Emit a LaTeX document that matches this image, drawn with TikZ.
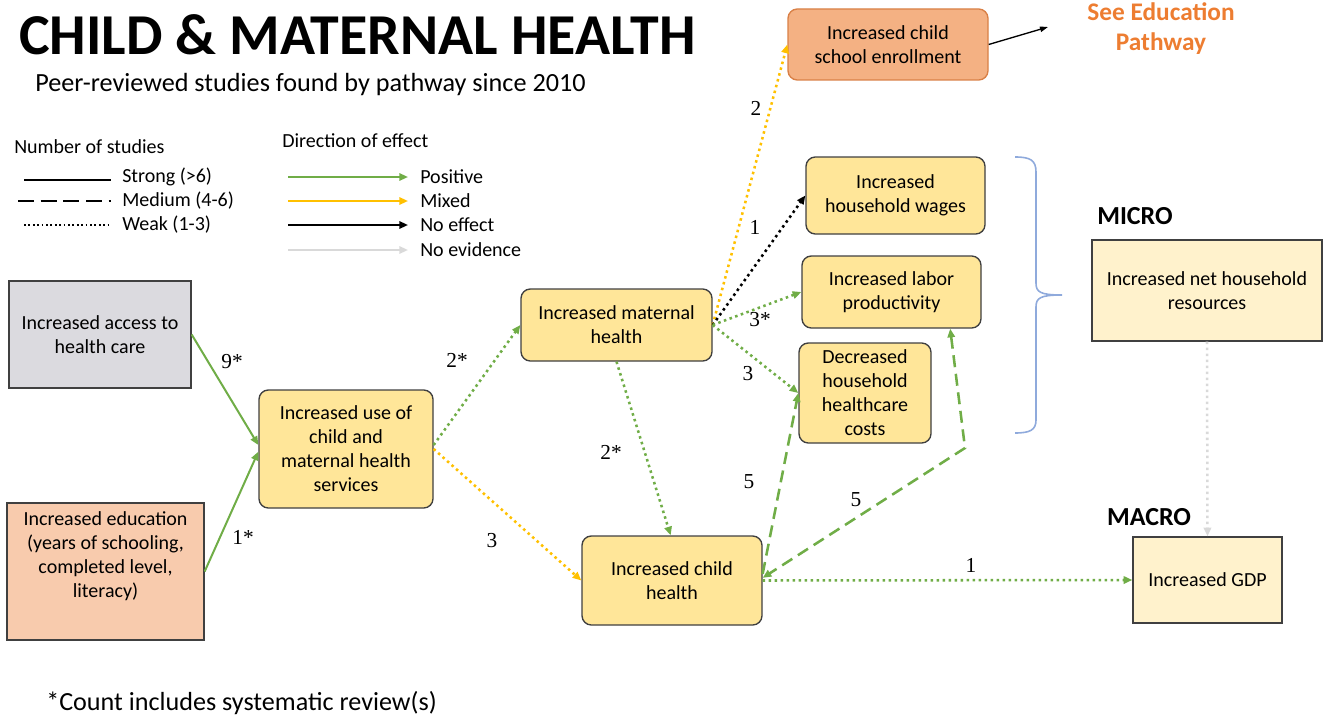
\documentclass[tikz,border=0pt]{standalone}
\usepackage{fontspec}
\setmainfont{Carlito}
\newfontfamily\numfont{Liberation Serif}
\usetikzlibrary{arrows.meta,calc}
\definecolor{cgreen}{HTML}{70AD47}
\definecolor{cgold}{HTML}{FFC000}
\definecolor{cgrayline}{HTML}{D9D9D9}
\definecolor{cyellow}{HTML}{FFE699}
\definecolor{cpale}{HTML}{FFF2CC}
\definecolor{cpeach}{HTML}{F8CBAD}
\definecolor{corange}{HTML}{F4B183}
\definecolor{corangetext}{HTML}{ED7D31}
\definecolor{cenroll}{HTML}{D98046}
\definecolor{cgraybox}{HTML}{DBDADF}
\definecolor{cborder}{HTML}{404040}
\definecolor{cbrace}{HTML}{8FAADC}
\tikzset{
  boxtext/.style={font=\fontsize{15}{18}\selectfont, align=center},
  rbox/.style={draw=cborder, line width=1pt, rounded corners=7pt, fill=cyellow, boxtext, inner sep=0pt},
  sbox/.style={draw=cborder, line width=1pt, boxtext, inner sep=0pt},
  lab/.style={font=\numfont\fontsize{16}{16}\selectfont, inner sep=0pt},
  legtext/.style={font=\fontsize{15}{18}\selectfont, anchor=base west, inner sep=0pt},
  tip/.style={-{Triangle[length=6.5pt,width=5.5pt]}},
  strongline/.style={line width=1.5pt},
  weakline/.style={line width=1.9pt, dash pattern=on 1.9pt off 2.6pt},
  medline/.style={line width=1.9pt, dash pattern=on 9pt off 5pt},
  legweak/.style={line width=1.5pt, dash pattern=on 1.4pt off 1.9pt},
}
\begin{document}
\begin{tikzpicture}[x=0.75pt,y=-0.75pt]
\useasboundingbox (0,0) rectangle (1325,717);

% title
\node[anchor=base west, inner sep=0pt, font=\bfseries\fontsize{43.4}{46}\selectfont] (title) at (19,55) {CHILD \& MATERNAL HEALTH};
\node[anchor=base west, inner sep=0pt, font=\fontsize{19.65}{22}\selectfont] (subtitle) at (35,92) {Peer-reviewed studies found by pathway since 2010};

% legend
\node[legtext] (numst) at (14,153) {Number of studies};
\node[legtext] (dirfx) at (282,147) {Direction of effect};
\draw[strongline] (24,180) -- (111,180);
\draw[strongline, dash pattern=on 12pt off 5pt] (18,201) -- (111,201);
\draw[legweak] (24,225) -- (108,225);
\node[legtext] (lstrong) at (122,182) {Strong (>6)};
\node[legtext] (lmed) at (122,206) {Medium (4-6)};
\node[legtext] (lweak) at (122,230) {Weak (1-3)};
\draw[strongline, tip, cgreen] (288,177) -- (408,177);
\draw[strongline, tip, cgold] (288,201) -- (408,201);
\draw[strongline, tip, black] (288,225) -- (408,225);
\draw[strongline, tip, cgrayline] (288,250) -- (408,250);
\node[legtext] (lpos) at (420,183) {Positive};
\node[legtext] (lmix) at (420,207) {Mixed};
\node[legtext] (lnoe) at (420,231) {No effect};
\node[legtext] (lnoev) at (420,256) {No evidence};

% nodes
\node[sbox, fill=cgraybox, minimum width=136.5pt, minimum height=80.25pt] (access) at (100,334.5) {Increased access to\\health care};
\node[sbox, fill=cpeach, minimum width=147.75pt, minimum height=102.75pt] (edu) at (105.5,571.5) {};
\node[boxtext, inner sep=0pt] (edutext) at (105.5,556) {Increased education\\(years of schooling,\\completed level,\\literacy)};
\node[rbox, minimum width=130.5pt, minimum height=88.5pt] (serv) at (346,449) {Increased use of\\child and\\maternal health\\services};
\node[rbox, minimum width=143.25pt, minimum height=54pt] (mat) at (616.5,325) {Increased maternal\\health};
\node[rbox, fill=corange, draw=cenroll, minimum width=150pt, minimum height=53.25pt] (enroll) at (888,44.5) {Increased child\\school enrollment};
\node[rbox, minimum width=134.25pt, minimum height=57.75pt] (wages) at (895.5,195.5) {Increased\\household wages};
\node[rbox, minimum width=134.25pt, minimum height=54pt] (labor) at (891.5,292) {Increased labor\\productivity};
\node[rbox, minimum width=99pt, minimum height=75pt] (costs) at (865,393) {Decreased\\household\\healthcare\\costs};
\node[rbox, minimum width=135pt, minimum height=66.75pt] (child) at (672,580.5) {Increased child\\health};
\node[sbox, fill=cpale, minimum width=172.5pt, minimum height=75.75pt] (net) at (1207,290.5) {Increased net household\\resources};
\node[sbox, fill=cpale, minimum width=111.75pt, minimum height=64.5pt] (gdp) at (1207.5,580) {Increased GDP};

\node[inner sep=0pt, font=\bfseries\fontsize{19.5}{22}\selectfont] (micro) at (1135,216) {MICRO};
\node[inner sep=0pt, font=\bfseries\fontsize{19.5}{22}\selectfont] (macro) at (1149,517) {MACRO};
\node[inner sep=0pt, align=center, text=corangetext, font=\bfseries\fontsize{19}{22.5}\selectfont] (see) at (1161,29) {See Education\\Pathway};
\node[anchor=west, inner sep=0pt, font=\fontsize{19.6}{22}\selectfont] (foot) at (46,703) {*Count includes systematic review(s)};

% brace
\draw[cbrace, line width=1.2pt] (1015,157) .. controls (1030,157) and (1036,160) .. (1036,172) -- (1036,283)
  .. controls (1036,292) and (1040,295) .. (1062,295)
  .. controls (1040,295) and (1036,298) .. (1036,307) -- (1036,420)
  .. controls (1036,430) and (1030,433) .. (1015,433);

% connectors
\draw[strongline, tip, cgreen] (access.east) -- ([yshift=3pt]serv.west);
\draw[strongline, tip, cgreen] (edu.east) -- ([yshift=-2pt]serv.west);
\draw[weakline, tip, cgreen] ([yshift=3pt]serv.east) -- (mat.west);
\draw[weakline, tip, cgold] (serv.east) -- (child.west);
\draw[weakline, tip, cgold] (mat.east) -- (enroll.west);
\draw[weakline, tip, black] (mat.east) -- (wages.west);
\draw[weakline, tip, cgreen] (mat.east) -- (labor.west);
\draw[weakline, tip, cgreen] (mat.east) -- (costs.west);
\draw[weakline, tip, cgreen] (mat.south) -- ([xshift=-1pt]child.north);
\draw[medline, tip, cgreen] ([yshift=5pt]child.east) -- (costs.west);
\coordinate (bend) at (965,448);
\draw[medline, {Triangle[length=6.5pt,width=5.5pt]}-{Triangle[length=6.5pt,width=5.5pt]}, cgreen] ([xshift=44pt]labor.south) -- (bend) -- ([yshift=2pt]child.east);
\draw[weakline, tip, cgreen] (child.east) -- (gdp.west);
\draw[weakline, tip, cgrayline] (net.south) -- (gdp.north);
\coordinate (seeend) at (1048,27);
\draw[line width=1pt, -{Triangle[length=6pt,width=4pt]}] (enroll.east) -- (seeend);

% labels
\node[lab] (l9) at (232,362) {9*};
\node[lab] (l1s) at (243,537) {1*};
\node[lab] (l2s) at (457,360) {2*};
\node[lab] (l3a) at (492,541) {3};
\node[lab] (l2) at (756,108) {2};
\node[lab] (l1a) at (755,227) {1};
\node[lab] (l3s) at (760,320) {3*};
\node[lab] (l3b) at (748,374) {3};
\node[lab] (l2s2) at (611,452) {2*};
\node[lab] (l5a) at (749,482) {5};
\node[lab] (l5b) at (856,500) {5};
\node[lab] (l1b) at (971,565) {1};
\end{tikzpicture}
\end{document}
